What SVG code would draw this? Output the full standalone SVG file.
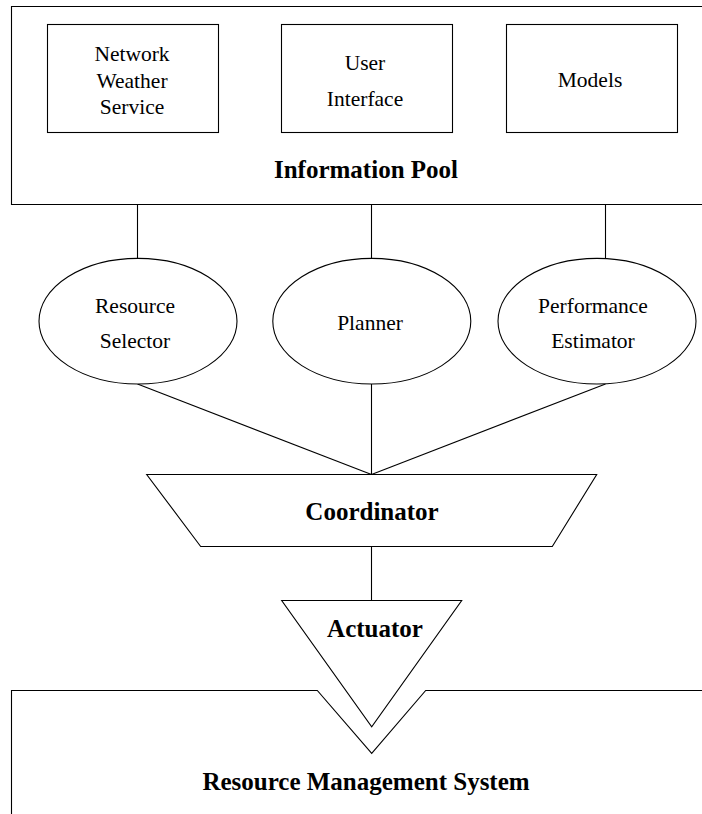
<svg xmlns="http://www.w3.org/2000/svg" width="702" height="814" viewBox="0 0 702 814">
<style>
.s{fill:none;stroke:#000;stroke-width:1.1}
.n{fill:#fff;stroke:#000;stroke-width:1.1}
.t{font-family:"Liberation Serif","Times New Roman",serif;font-size:21.5px;text-anchor:middle;fill:#000}
.b{font-family:"Liberation Serif","Times New Roman",serif;font-size:25px;font-weight:bold;text-anchor:middle;fill:#000}
</style>
<rect width="702" height="814" fill="#fff"/>
<g id="connectors">
<line class="s" x1="137.5" y1="204.5" x2="137.5" y2="258.5"/>
<line class="s" x1="371.5" y1="204.5" x2="371.5" y2="258.5"/>
<line class="s" x1="605.5" y1="204.5" x2="605.5" y2="258.5"/>
<line class="s" x1="137.5" y1="384" x2="371.5" y2="474.5"/>
<line class="s" x1="371.5" y1="384" x2="371.5" y2="474.5"/>
<line class="s" x1="605.5" y1="384" x2="371.5" y2="474.5"/>
<line class="s" x1="371.5" y1="546.5" x2="371.5" y2="600.5"/>
</g>
<g id="information-pool">
<path class="s" d="M702 6.5 H11.5 V204.5 H702"/>
<text class="b" x="366" y="178">Information Pool</text>
</g>
<g id="network-weather-service">
<rect class="n" x="47.5" y="24.5" width="171" height="108"/>
<text class="t" x="132" y="61">Network</text>
<text class="t" x="132" y="87.5">Weather</text>
<text class="t" x="132" y="114">Service</text>
</g>
<g id="user-interface">
<rect class="n" x="281.5" y="24.5" width="171" height="108"/>
<text class="t" x="365" y="70">User</text>
<text class="t" x="365" y="106">Interface</text>
</g>
<g id="models">
<rect class="n" x="506.5" y="24.5" width="171" height="108"/>
<text class="t" x="590" y="87">Models</text>
</g>
<g id="resource-selector">
<ellipse class="n" cx="138" cy="321.2" rx="99" ry="62.8"/>
<text class="t" x="135" y="313">Resource</text>
<text class="t" x="135" y="348">Selector</text>
</g>
<g id="planner">
<ellipse class="n" cx="371.8" cy="321.2" rx="99" ry="62.8"/>
<text class="t" x="370" y="330">Planner</text>
</g>
<g id="performance-estimator">
<ellipse class="n" cx="597" cy="321.2" rx="99" ry="62.8"/>
<text class="t" x="593" y="313">Performance</text>
<text class="t" x="593" y="348">Estimator</text>
</g>
<g id="coordinator">
<polygon class="n" points="146.7,474.5 596.7,474.5 552.3,546.5 200.7,546.5"/>
<text class="b" x="372" y="520">Coordinator</text>
</g>
<g id="actuator">
<polygon class="n" points="281.7,600.5 461.7,600.5 371.7,726.7"/>
<text class="b" x="375" y="637">Actuator</text>
</g>
<g id="resource-management-system">
<path class="s" d="M11.5 814 V690.5 H317.3 L371.7 753.3 L425.7 690.5 H702"/>
<text class="b" x="366" y="790">Resource Management System</text>
</g>
</svg>
